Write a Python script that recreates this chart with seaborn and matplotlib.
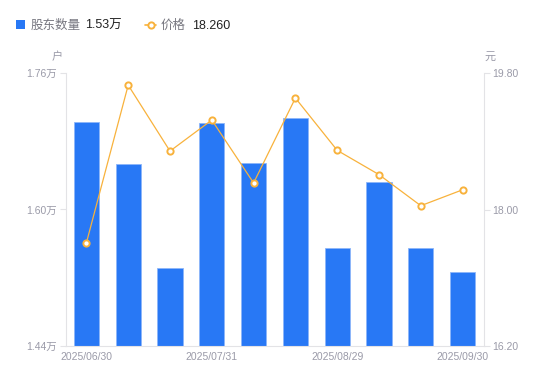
import numpy as np
import pandas as pd
import matplotlib
matplotlib.use("Agg")
import matplotlib.pyplot as plt
from matplotlib.lines import Line2D
from matplotlib.patches import Rectangle
import seaborn as sns

dates = ["2025/06/30", "2025/07/10", "2025/07/20", "2025/07/31", "2025/08/10",
         "2025/08/20", "2025/08/29", "2025/09/10", "2025/09/20", "2025/09/30"]
holders = [1.703, 1.653, 1.531, 1.701, 1.654, 1.707, 1.555, 1.632, 1.555, 1.527]  # 万户
price = [17.56, 19.64, 18.77, 19.18, 18.35, 19.47, 18.78, 18.46, 18.05, 18.26]
left_ticks = [1.44, 1.60, 1.76]
left_labels = ["1.44万", "1.60万", "1.76万"]
right_ticks = [16.20, 18.00, 19.80]
right_labels = ["16.20", "18.00", "19.80"]
shown_dates = ["2025/06/30", "2025/07/31", "2025/08/29", "2025/09/30"]

sns.set_style("white")
plt.rcParams["font.family"] = ["Liberation Sans", "Noto Sans CJK SC", "DejaVu Sans"]

BLUE = "#2878F5"
ORANGE = "#F8B23C"
GREY = "#9A9AA8"
AXIS = "#E3E3E6"

df = pd.DataFrame({"date": dates, "holders": holders, "price": price})

fig = plt.figure(figsize=(5.5, 3.81), dpi=100)
ax = fig.add_axes([65.5/550, 1-346/381, 418/550, 273/381])
sns.barplot(data=df, x="date", y="holders", ax=ax, color=BLUE, width=0.6,
            edgecolor="#8DB6FA", linewidth=0.6, saturation=1)
ax.set_ylim(1.44, 1.76)
ax.set_xlim(-0.5, len(dates) - 0.5)
ax.set_yticks(left_ticks)
ax.set_yticklabels(left_labels)
ax.set_xticks([dates.index(d) for d in shown_dates])
ax.set_xticklabels(shown_dates)
ax.set_xlabel("")
ax.set_ylabel("")

ax2 = ax.twinx()
sns.lineplot(x=np.arange(len(price)), y=df["price"], ax=ax2, color=ORANGE,
             linewidth=0.9, marker="o", markersize=4.5, markerfacecolor="white",
             markeredgecolor=ORANGE, markeredgewidth=1.4)
ax2.set_ylim(16.20, 19.80)
ax2.set_yticks(right_ticks)
ax2.set_yticklabels(right_labels)
ax2.set_ylabel("")
ax2.set_xlim(-0.5, len(dates) - 0.5)

for a in (ax, ax2):
    for s in a.spines.values():
        s.set_visible(False)
    a.tick_params(axis="both", labelsize=7.5, colors=GREY, length=4, width=0.8)
    a.tick_params(axis="x", length=0, pad=4)
ax.spines["left"].set_visible(True)
ax.spines["left"].set_color(AXIS)
ax.spines["bottom"].set_visible(True)
ax.spines["bottom"].set_color(AXIS)
ax2.spines["right"].set_visible(True)
ax2.spines["right"].set_color(AXIS)
ax.tick_params(axis="y", color=AXIS, labelcolor=GREY, pad=2)
ax2.tick_params(axis="y", color=AXIS, labelcolor=GREY, pad=2)

fig.text(57/550, 1-57/381, "户", fontsize=8, color=GREY, ha="center", va="center")
fig.text(490/550, 1-57/381, "元", fontsize=8, color=GREY, ha="center", va="center")

# legend
ly = 1 - 24.5/381
fig.add_artist(Rectangle((16/550, 1-29/381), 9/550, 9/381, transform=fig.transFigure,
                         color=BLUE, lw=0))
fig.text(31/550, ly, "股东数量", fontsize=9, color="#777780", va="center_baseline")
fig.text(85/550, ly, "1.53万", fontsize=9, color="#222222", va="center_baseline")
fig.add_artist(Line2D([145/550, 156/550], [ly, ly], transform=fig.transFigure,
                      color=ORANGE, lw=1.2))
fig.add_artist(Line2D([150.5/550], [ly], transform=fig.transFigure, marker="o",
                      markersize=4.5, markerfacecolor="white", markeredgecolor=ORANGE,
                      markeredgewidth=1.4, color=ORANGE))
fig.text(161/550, ly, "价格", fontsize=9, color="#777780", va="center_baseline")
fig.text(192/550, ly, "18.260", fontsize=9, color="#222222", va="center_baseline")

fig.savefig("out.png", dpi=100)
